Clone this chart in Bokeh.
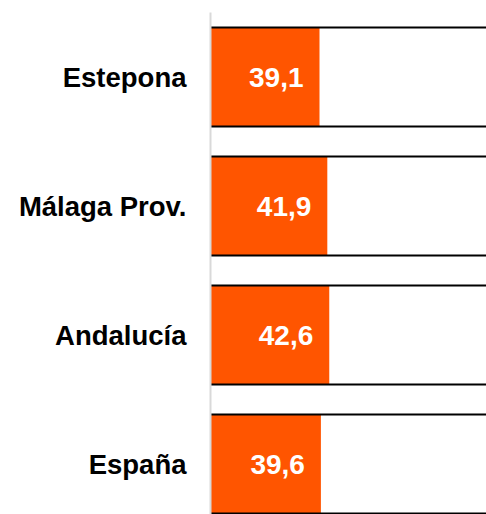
from bokeh.plotting import figure
from bokeh.models import Range1d, FixedTicker, ColumnDataSource
from bokeh.embed import file_html
from bokeh.resources import INLINE
from bokeh.core.properties import value

categories = ["Estepona", "Málaga Prov.", "Andalucía", "España"]
values = [39.1, 41.9, 42.6, 39.6]

n = len(categories)
ypos = [n - 0.5 - i for i in range(n)]
bar_h = 0.767
x_max = 99

labels = [f"{v:.1f}".replace(".", ",") for v in values]
src = ColumnDataSource(dict(y=ypos, v=values, lab=labels,
                            top=[y + bar_h / 2 for y in ypos],
                            bot=[y - bar_h / 2 for y in ypos],
                            x0=[0] * n, x1=[x_max] * n))

p = figure(width=486, height=514, output_backend="svg", toolbar_location=None,
           x_range=Range1d(0, x_max), y_range=Range1d(n - 502 / 129, n),
           min_border_left=210, min_border_right=0, min_border_top=12, min_border_bottom=0)
p.outline_line_color = None
p.grid.visible = False
p.xaxis.visible = False
p.background_fill_color = "white"

p.hbar(y="y", left=0, right="v", height=bar_h, source=src, fill_color="#FF5500", line_color=None)
p.segment(x0="x0", x1="x1", y0="top", y1="top", source=src, line_color="#000000", line_width=2)
p.segment(x0="x0", x1="x1", y0="bot", y1="bot", source=src, line_color="#000000", line_width=2)

p.text(x="v", y="y", text="lab", source=src, text_align="right", text_baseline="middle",
       x_offset=-16, text_color="white", text_font=value("Liberation Sans"),
       text_font_style="bold", text_font_size="28px")

ax = p.yaxis[0]
ax.ticker = FixedTicker(ticks=ypos)
ax.major_label_overrides = {y: c for y, c in zip(ypos, categories)}
ax.major_tick_line_color = None
ax.minor_tick_line_color = None
ax.major_tick_out = 0
ax.major_tick_in = 0
ax.axis_line_color = "#D9D9D9"
ax.axis_line_width = 2
ax.major_label_standoff = 24
ax.major_label_text_font = "Liberation Sans"
ax.major_label_text_font_style = "bold"
ax.major_label_text_font_size = "27.5px"
ax.major_label_text_color = "#000000"

open("out.html", "w").write(file_html(p, INLINE))
